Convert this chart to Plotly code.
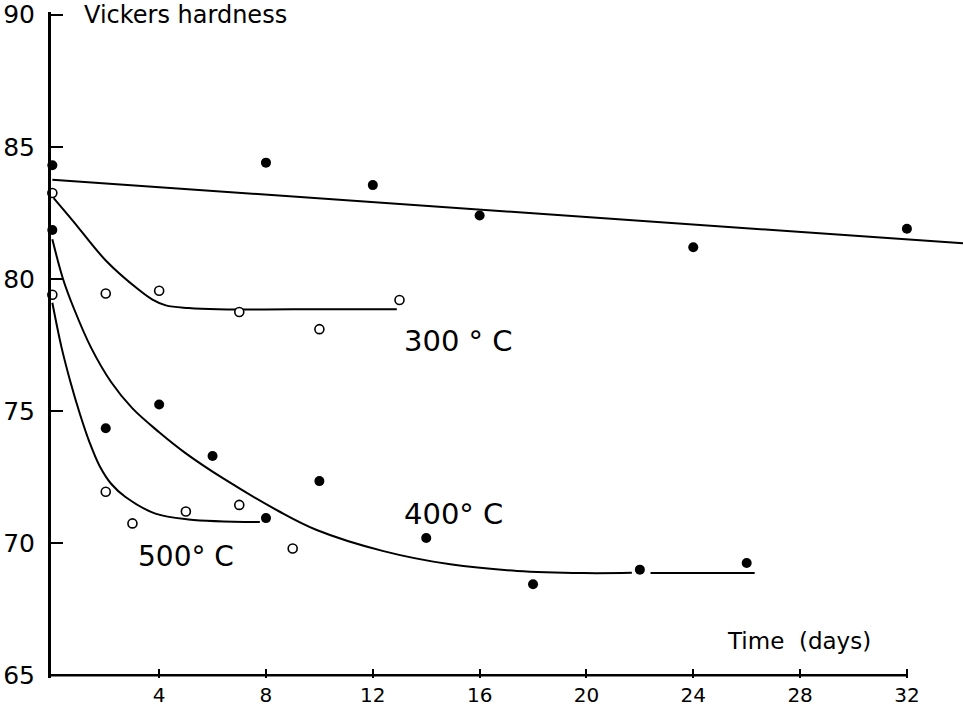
import plotly.graph_objects as go

# ---- data ----
rt_days = [0, 8, 12, 16, 24, 32]
rt_hv = [84.3, 84.4, 83.55, 82.4, 81.2, 81.9]
rt_fit_days = [0, 34.1]
rt_fit_hv = [83.75, 81.35]

t300_days = [0, 2, 4, 7, 10, 13]
t300_hv = [83.25, 79.45, 79.55, 78.75, 78.1, 79.2]
t300_fit_days = [0.05, 0.77, 2.0, 3.25, 3.75, 4.25, 5.1, 6.2, 9.0, 12.9]
t300_fit_hv = [83.06, 82.2, 80.7, 79.58, 79.22, 79.0, 78.9, 78.85, 78.85, 78.85]

t400_days = [0, 2, 4, 6, 8, 10, 14, 18, 22, 26]
t400_hv = [81.85, 74.35, 75.25, 73.3, 70.95, 72.35, 70.2, 68.45, 69.0, 69.25]
t400_fit_days = [0, 0.4, 0.8, 1.45, 2.2, 3.0, 4.0, 5.0, 6.4, 8.5, 9.9, 12.4, 14.9, 17.4, 19.9, 21.7, None, 22.4, 26.3]
t400_fit_hv = [81.5, 80.0, 78.9, 77.4, 76.1, 75.1, 74.2, 73.4, 72.45, 71.2, 70.5, 69.7, 69.2, 68.95, 68.87, 68.88, None, 68.87, 68.87]

t500_days = [0, 2, 3, 5, 7, 9]
t500_hv = [79.4, 71.95, 70.75, 71.2, 71.45, 69.8]
t500_fit_days = [0, 0.34, 0.66, 1.03, 1.4, 1.78, 2.2, 2.74, 3.86, 5.1, 7.77]
t500_fit_hv = [79.1, 77.43, 76.17, 74.9, 73.8, 72.9, 72.25, 71.75, 71.12, 70.9, 70.8]

x_ticks = [4, 8, 12, 16, 20, 24, 28, 32]
y_ticks = [65, 70, 75, 80, 85, 90]

FONT = "DejaVu Sans"
LW = 2

fig = go.Figure()

def curve(x, y):
    fig.add_trace(go.Scatter(x=x, y=y, mode="lines", line=dict(color="black", width=LW, shape="spline", smoothing=1.0),
                             connectgaps=False, showlegend=False, hoverinfo="skip"))

curve(rt_fit_days, rt_fit_hv)
curve(t300_fit_days, t300_fit_hv)
curve(t400_fit_days, t400_fit_hv)
curve(t500_fit_days, t500_fit_hv)

def filled(x, y):
    fig.add_trace(go.Scatter(x=x, y=y, mode="markers", cliponaxis=False,
                             marker=dict(symbol="circle", size=10, color="black", line=dict(width=0)),
                             showlegend=False))

def hollow(x, y):
    fig.add_trace(go.Scatter(x=x, y=y, mode="markers", cliponaxis=False,
                             marker=dict(symbol="circle", size=9, color="white", line=dict(color="black", width=1.6)),
                             showlegend=False))

filled(rt_days, rt_hv)
hollow(t300_days, t300_hv)
filled(t400_days, t400_hv)
hollow(t500_days, t500_hv)

# bottom axis line (ends at 32 like the reference)
fig.add_shape(type="line", xref="x", yref="y", x0=-0.05, x1=32, y0=65, y1=65,
              line=dict(color="black", width=2.5))

anns = [
    dict(x=1.1, y=90, text="Vickers hardness", xanchor="left", yanchor="middle", size=24),
    dict(x=13.1, y=77.65, text="300 ° C", xanchor="left", yanchor="middle", size=29),
    dict(x=13.1, y=71.1, text="400° C", xanchor="left", yanchor="middle", size=29),
    dict(x=3.15, y=69.5, text="500° C", xanchor="left", yanchor="middle", size=28),
    dict(x=25.2, y=66.3, text="Time\u00a0\u00a0(days)", xanchor="left", yanchor="middle", size=23),
]
for a in anns:
    fig.add_annotation(x=a["x"], y=a["y"], text=a["text"], xanchor=a["xanchor"], yanchor=a["yanchor"],
                       showarrow=False, font=dict(family=FONT, size=a["size"], color="black"))

fig.update_layout(
    width=963, height=708,
    margin=dict(l=51, r=0, t=12, b=30, autoexpand=False),
    paper_bgcolor="white", plot_bgcolor="white",
    font=dict(family=FONT, color="black"),
    xaxis=dict(range=[-0.05, 34.1], tickvals=x_ticks, ticktext=[str(v) for v in x_ticks],
               ticks="inside", ticklen=9, tickwidth=2, tickcolor="black",
               showline=False, showgrid=False, zeroline=False, automargin=False,
               tickfont=dict(family=FONT, size=20, color="black"), ticklabelstandoff=3),
    yaxis=dict(range=[64.9, 90.1], tickvals=y_ticks, ticktext=[str(v) for v in y_ticks],
               ticks="inside", ticklen=12, tickwidth=2, tickcolor="black",
               showline=True, linecolor="black", linewidth=3, automargin=False,
               showgrid=False, zeroline=False,
               tickfont=dict(family=FONT, size=25, color="black"), ticklabelstandoff=8),
)

# remove the browser's default 8px body margin so the figure fills the window exactly
fig.write_html("out.html", config={"displayModeBar": False},
               post_script="document.body.style.margin='0';document.body.style.overflow='hidden';")
